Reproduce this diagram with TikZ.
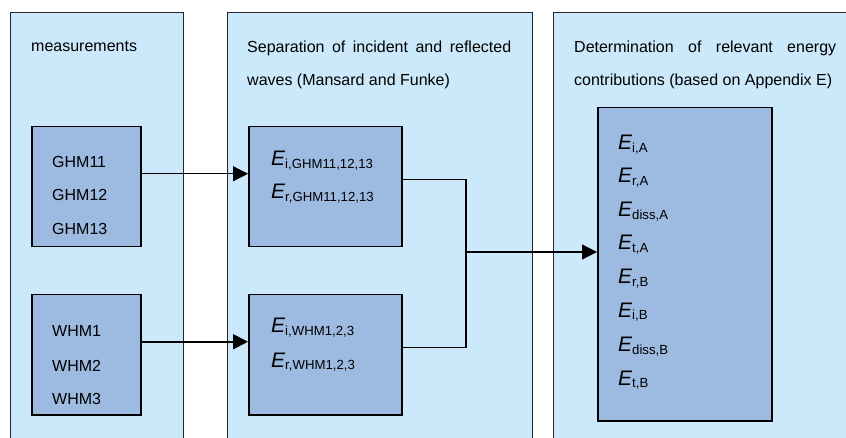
\documentclass[tikz,border=0pt]{standalone}
\usepackage{fontspec}
\setmainfont{Liberation Sans}
\usetikzlibrary{arrows.meta}
\definecolor{panelfill}{HTML}{CBE9FA}
\definecolor{boxfill}{HTML}{9DBAE1}
\newcommand\Eterm[1]{{\fontsize{21}{21}\selectfont\itshape E}\raisebox{-2.5pt}{\fontsize{13.2}{14}\selectfont #1}}
\begin{document}
\begin{tikzpicture}[x=1pt,y=-1pt,
 panel/.style={draw=black!85, line width=1pt, fill=panelfill, anchor=north west, inner sep=0pt},
 ibox/.style={draw=black, line width=1.5pt, fill=boxfill, anchor=north west, inner sep=0pt},
 txt/.style={anchor=base west, inner sep=0pt, font=\fontsize{16}{19}\selectfont},
 conn/.style={line width=1.2pt},
 arr/.style={line width=1.2pt, -{Triangle[length=15pt,width=15pt]}}]
\useasboundingbox (0,0) rectangle (846,438);
\clip (0,0) rectangle (846,438);
\fill[white] (0,0) rectangle (846,438);
% panels
\node[panel, minimum width=173pt, minimum height=440pt] (pl) at (10,12) {};
\node[panel, minimum width=305pt, minimum height=440pt] (pm) at (227,12) {};
\node[panel, minimum width=310pt, minimum height=440pt] (pr) at (553,12) {};
% titles
\node[txt] (tl) at (31,52) {measurements};
\node[txt] (tm1) at (247,53) {\makebox[264pt][s]{Separation of incident and reflected}};
\node[txt] (tm2) at (247,86) {waves (Mansard and Funke)};
\node[txt] (tr1) at (574,53) {\makebox[262pt][s]{Determination of relevant energy}};
\node[txt] (tr2) at (574,86) {contributions (based on Appendix E)};
% inner boxes
\node[ibox, minimum width=109pt, minimum height=120pt] (gbox) at (31,126) {};
\node[ibox, minimum width=109pt, minimum height=120pt] (wbox) at (31,294) {};
\node[ibox, minimum width=153pt, minimum height=120pt] (mg) at (248,126) {};
\node[ibox, minimum width=153pt, minimum height=120pt] (mw) at (248,294) {};
\node[ibox, minimum width=174pt, minimum height=313pt] (rb) at (597,107) {};
% left texts
\node[txt] (g1) at (52,168) {GHM11};
\node[txt] (g2) at (52,201) {GHM12};
\node[txt] (g3) at (52,235) {GHM13};
\node[txt] (w1) at (52,337) {WHM1};
\node[txt] (w2) at (52,371) {WHM2};
\node[txt] (w3) at (52,404) {WHM3};
% middle texts
\node[txt] (mg1) at (271,166) {\Eterm{i,GHM11,12,13}};
\node[txt] (mg2) at (271,199) {\Eterm{r,GHM11,12,13}};
\node[txt] (mw1) at (271,333) {\Eterm{i,WHM1,2,3}};
\node[txt] (mw2) at (271,367) {\Eterm{r,WHM1,2,3}};
% right texts
\node[txt] (r1) at (618,150) {\Eterm{i,A}};
\node[txt] (r2) at (618,183) {\Eterm{r,A}};
\node[txt] (r3) at (618,217) {\Eterm{diss,A}};
\node[txt] (r4) at (618,250) {\Eterm{t,A}};
\node[txt] (r5) at (618,284) {\Eterm{r,B}};
\node[txt] (r6) at (618,317) {\Eterm{i,B}};
\node[txt] (r7) at (618,352) {\Eterm{diss,B}};
\node[txt] (r8) at (618,385) {\Eterm{t,B}};
% connectors
\draw[arr] ([yshift=13pt]gbox.east) -- ([yshift=13pt]mg.west);
\draw[arr, line width=1.8pt] ([yshift=13pt]wbox.east) -- ([yshift=13pt]mw.west);
\coordinate (j) at (466,252);
\draw[conn] ([yshift=7pt]mg.east) -| (j) |- ([yshift=7pt]mw.east);
\draw[arr] (j) -- (rb.west |- j);
\end{tikzpicture}
\end{document}
